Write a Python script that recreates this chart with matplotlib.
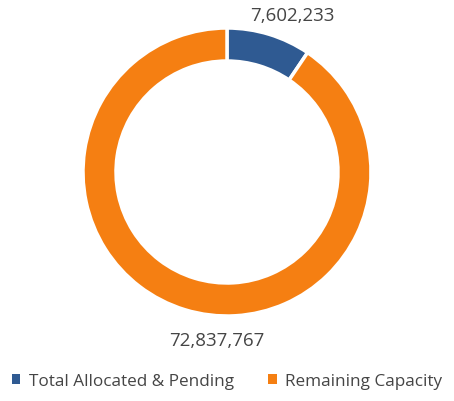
import matplotlib
matplotlib.use("Agg")
import matplotlib.pyplot as plt
from matplotlib.patches import Patch

# data
categories = ["Total Allocated & Pending", "Remaining Capacity"]
values = [7602233, 72837767]
colors = ["#2F5A92", "#F57F12"]

plt.rcParams['font.family'] = ['Open Sans', 'DejaVu Sans']

fig = plt.figure(figsize=(4.54, 4.02), dpi=100)
ax = fig.add_axes([0, 0, 1, 1])

# pie in pixel coordinates (y up)
cx, cy, r = 227, 402 - 173, 144
wedges, _ = ax.pie(values, colors=colors, startangle=90, counterclock=False,
                   center=(cx, cy), radius=r,
                   wedgeprops=dict(width=33, edgecolor="white", linewidth=2.5))
ax.set_xlim(0, 454)
ax.set_ylim(0, 402)
ax.set_aspect("equal")
ax.axis("off")

# data labels
ax.text(292, 402 - 16, f"{values[0]:,}", ha="center", va="center",
        fontsize=13.5, color="#454545")
ax.text(217, 402 - 341, f"{values[1]:,}", ha="center", va="center",
        fontsize=13.5, color="#454545")

handles = [Patch(facecolor=c, edgecolor="none") for c in colors]
fig.legend(handles, categories, loc="center", bbox_to_anchor=(0.5, 1 - 382 / 402),
           ncol=2, frameon=False, fontsize=12.3, labelcolor="#454545",
           handlelength=0.5, handleheight=0.5, handletextpad=0.5, columnspacing=2.0)

fig.savefig("out.png", dpi=100)
